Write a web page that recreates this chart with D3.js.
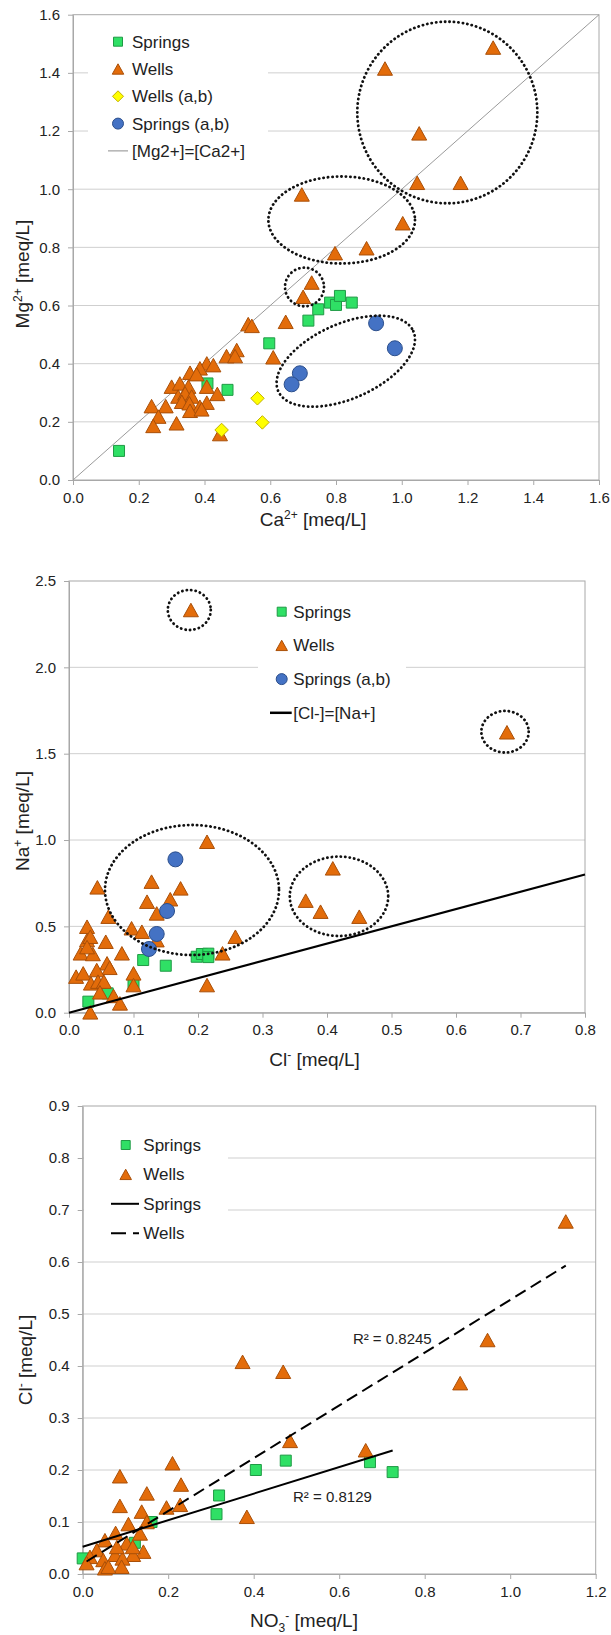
<!DOCTYPE html>
<html>
<head>
<meta charset="utf-8">
<script src="https://cdn.jsdelivr.net/npm/d3@7"></script>
<style>
  body { margin: 0; background: #fff; }
  svg { display: block; }
</style>
</head>
<body>
<script>
// ---------- Ca2+ vs Mg2+ (meq/L) ----------
const caMgSprings = [[0.14,0.10],[0.409,0.332],[0.47,0.31],[0.597,0.47],[0.716,0.548],[0.746,0.587],[0.782,0.61],[0.80,0.602],[0.812,0.633],[0.848,0.61]];
const caMgWells = [[1.278,1.487],[0.949,1.415],[1.053,1.192],[1.047,1.022],[1.179,1.022],[1.003,0.883],[0.893,0.797],[0.797,0.78],[0.696,0.982],[0.726,0.679],[0.70,0.63],[0.647,0.544],[0.609,0.422],[0.533,0.536],[0.544,0.53],[0.498,0.447],[0.467,0.426],[0.493,0.426],[0.407,0.401],[0.427,0.395],[0.386,0.384],[0.356,0.369],[0.376,0.364],[0.407,0.321],[0.439,0.296],[0.30,0.321],[0.325,0.332],[0.351,0.321],[0.32,0.287],[0.341,0.298],[0.361,0.287],[0.331,0.269],[0.354,0.264],[0.407,0.266],[0.386,0.252],[0.356,0.238],[0.391,0.243],[0.239,0.254],[0.282,0.254],[0.26,0.218],[0.244,0.186],[0.315,0.195],[0.447,0.158]];
const caMgWellsAB = [[0.452,0.172],[0.561,0.281],[0.576,0.198]];
const caMgSpringsAB = [[0.922,0.539],[0.979,0.453],[0.69,0.367],[0.665,0.329]];
const caMgTicks = [0,0.2,0.4,0.6,0.8,1.0,1.2,1.4,1.6];

// ---------- Cl- vs Na+ (meq/L) ----------
const clNaSprings = [[0.198,0.324],[0.206,0.34],[0.216,0.342],[0.216,0.322],[0.115,0.305],[0.15,0.272],[0.1,0.17],[0.06,0.112],[0.03,0.064]];
const clNaWells = [[0.189,2.332],[0.679,1.624],[0.409,0.836],[0.367,0.649],[0.39,0.585],[0.45,0.556],[0.214,0.99],[0.044,0.726],[0.128,0.759],[0.173,0.72],[0.121,0.643],[0.157,0.657],[0.136,0.575],[0.061,0.556],[0.097,0.489],[0.113,0.469],[0.136,0.42],[0.258,0.44],[0.238,0.344],[0.214,0.16],[0.082,0.344],[0.057,0.411],[0.028,0.498],[0.028,0.421],[0.033,0.44],[0.018,0.344],[0.037,0.34],[0.028,0.38],[0.059,0.286],[0.063,0.26],[0.011,0.209],[0.022,0.228],[0.043,0.247],[0.034,0.17],[0.045,0.18],[0.054,0.18],[0.1,0.228],[0.1,0.16],[0.048,0.118],[0.069,0.097],[0.079,0.054],[0.033,0.002]];
const clNaSpringsAB = [[0.165,0.888],[0.152,0.589],[0.136,0.456],[0.124,0.369]];
const clTicks = [0,0.1,0.2,0.3,0.4,0.5,0.6,0.7,0.8];
const naTicks = [0,0.5,1.0,1.5,2.0,2.5];

// ---------- NO3- vs Cl- (meq/L) ----------
const no3ClSprings = [[0.0,0.03],[0.122,0.06],[0.161,0.1],[0.313,0.115],[0.319,0.151],[0.405,0.2],[0.475,0.218],[0.672,0.215],[0.725,0.196]];
const no3ClWells = [[1.13,0.678],[0.947,0.45],[0.883,0.367],[0.374,0.408],[0.469,0.389],[0.662,0.238],[0.485,0.256],[0.384,0.11],[0.21,0.213],[0.23,0.172],[0.228,0.133],[0.196,0.128],[0.15,0.155],[0.087,0.188],[0.087,0.131],[0.138,0.12],[0.15,0.1],[0.107,0.096],[0.134,0.078],[0.077,0.079],[0.052,0.065],[0.033,0.046],[0.103,0.059],[0.142,0.043],[0.118,0.037],[0.076,0.037],[0.093,0.03],[0.048,0.027],[0.017,0.033],[0.009,0.021],[0.052,0.011],[0.091,0.014],[0.06,0.014],[0.117,0.052],[0.08,0.052]];
const no3Ticks = [0,0.2,0.4,0.6,0.8,1.0,1.2];
const cl3Ticks = [0,0.1,0.2,0.3,0.4,0.5,0.6,0.7,0.8,0.9];
// linear trendlines: [slope, intercept, R²]
const trendSprings = [0.255, 0.0525, "0.8129"];
const trendWells = [0.5076, 0.0195, "0.8245"];

const FONT = '"Liberation Sans", Arial, Helvetica, sans-serif';
const fmt = d3.format(".1f");

const svg = d3.select("body").append("svg")
  .attr("width", 611).attr("height", 1635)
  .style("background", "#fff")
  .attr("font-family", FONT);

const shapes = {
  square: s => `M${-s/2},${-s/2}h${s}v${s}h${-s}Z`,
  triangle: s => `M0,${-s*0.45}L${s/2},${s*0.45}L${-s/2},${s*0.45}Z`,
  diamond: s => `M0,${-s/2}L${s/2},0L0,${s/2}L${-s/2},0Z`,
  circle: s => { const r = s/2; return `M${r},0A${r},${r} 0 1,1 ${-r},0A${r},${r} 0 1,1 ${r},0Z`; }
};
const look = {
  springs:   { shape: "square",   size: 11,   legend: 9,    fill: "#2fe065", stroke: "#1f9a45" },
  wells:     { shape: "triangle", size: 15,   legend: 11.5, fill: "#e36c0a", stroke: "#a94f08" },
  wellsAB:   { shape: "diamond",  size: 13.5, legend: 11,   fill: "#ffff00", stroke: "#c2b000" },
  springsAB: { shape: "circle",   size: 15,   legend: 11,   fill: "#4472c4", stroke: "#2c4f8c" }
};

function writeTitle(text, segs, size) {
  let cur = 0;
  segs.forEach(s => {
    const off = s.sup ? -7 : s.sub ? 5 : 0;
    text.append("tspan")
      .attr("dy", off - cur)
      .attr("font-size", (s.sup || s.sub) ? 12 : size)
      .text(s.t);
    cur = off;
  });
}

function panel(p) {
  const g = svg.append("g");
  const x = d3.scaleLinear().domain(p.xDomain).range(p.xRange);
  const y = d3.scaleLinear().domain(p.yDomain).range(p.yRange);
  const [x0, x1] = p.xRange, [y0, y1] = p.yRange;

  // horizontal gridlines
  g.append("g").selectAll("line")
    .data(p.yTicks.filter(v => v > p.yDomain[0] && v < p.yDomain[1]))
    .join("line")
    .attr("x1", x0).attr("x2", x1)
    .attr("y1", d => y(d)).attr("y2", d => y(d))
    .attr("stroke", "#cfcfcf").attr("stroke-width", 1);

  // legend background
  g.append("rect")
    .attr("x", p.legend.box[0]).attr("y", p.legend.box[1])
    .attr("width", p.legend.box[2]).attr("height", p.legend.box[3])
    .attr("fill", "#fff");

  // plot frame
  g.append("rect")
    .attr("x", x0).attr("y", y1).attr("width", x1 - x0).attr("height", y0 - y1)
    .attr("fill", "none").attr("stroke", "#a8a8a8").attr("stroke-width", 1);

  // axes
  const ax = g.append("g").attr("transform", `translate(0,${y0})`)
    .call(d3.axisBottom(x).tickValues(p.xTicks).tickFormat(fmt).tickSize(5).tickSizeOuter(0).tickPadding(7));
  const ay = g.append("g").attr("transform", `translate(${x0},0)`)
    .call(d3.axisLeft(y).tickValues(p.yTicks).tickFormat(fmt).tickSize(5).tickSizeOuter(0).tickPadding(8));
  [ax, ay].forEach(a => {
    a.select(".domain").attr("stroke", "#a8a8a8");
    a.selectAll(".tick line").attr("stroke", "#a8a8a8");
    a.selectAll(".tick text").attr("font-size", 15).attr("fill", "#222").attr("font-family", FONT);
  });

  // reference / trend lines drawn under the markers
  (p.linesBelow || []).forEach(l => {
    g.append("line")
      .attr("x1", x(l.x[0])).attr("y1", y(l.y[0]))
      .attr("x2", x(l.x[1])).attr("y2", y(l.y[1]))
      .attr("stroke", l.stroke).attr("stroke-width", l.width)
      .attr("stroke-dasharray", l.dash || null);
  });

  // point series
  p.series.forEach(s => {
    const st = look[s.kind];
    g.append("g").selectAll("path").data(s.data).join("path")
      .attr("transform", d => `translate(${x(d[0])},${y(d[1])})`)
      .attr("d", shapes[st.shape](st.size))
      .attr("fill", st.fill).attr("stroke", st.stroke).attr("stroke-width", 1);
  });

  // lines drawn over the markers
  (p.linesAbove || []).forEach(l => {
    g.append("line")
      .attr("x1", x(l.x[0])).attr("y1", y(l.y[0]))
      .attr("x2", x(l.x[1])).attr("y2", y(l.y[1]))
      .attr("stroke", l.stroke).attr("stroke-width", l.width)
      .attr("stroke-dasharray", l.dash || null);
  });

  // dotted rings marking groups of samples
  (p.rings || []).forEach(r => {
    const rx = x(r.rx) - x(0), ry = y(0) - y(r.ry);
    g.append("ellipse")
      .attr("transform", `translate(${x(r.cx)},${y(r.cy)}) rotate(${r.rot || 0})`)
      .attr("rx", rx).attr("ry", ry)
      .attr("fill", "none").attr("stroke", "#111").attr("stroke-width", 2.8)
      .attr("stroke-linecap", "round").attr("stroke-dasharray", "0.2 4.3");
  });

  // free text labels (R²)
  (p.labels || []).forEach(t => {
    g.append("text").attr("x", x(t.x)).attr("y", y(t.y))
      .attr("font-size", 15).attr("fill", "#222").text(t.text);
  });

  // legend
  const L = p.legend;
  L.items.forEach((it, i) => {
    const cy = L.y0 + i * L.step;
    if (it.kind) {
      const st = look[it.kind];
      g.append("path").attr("transform", `translate(${L.markerX},${cy})`)
        .attr("d", shapes[st.shape](st.legend))
        .attr("fill", st.fill).attr("stroke", st.stroke).attr("stroke-width", 1);
    } else {
      g.append("line").attr("x1", L.lineX[0]).attr("x2", L.lineX[1])
        .attr("y1", cy).attr("y2", cy)
        .attr("stroke", it.stroke).attr("stroke-width", it.width)
        .attr("stroke-dasharray", it.dash || null);
    }
    g.append("text").attr("x", L.textX).attr("y", cy + 6)
      .attr("font-size", 17).attr("fill", "#222").text(it.label);
  });

  // axis titles
  writeTitle(g.append("text").attr("x", p.xTitle.x).attr("y", p.xTitle.y)
    .attr("text-anchor", "middle").attr("fill", "#222"), p.xTitle.segs, 19);
  writeTitle(g.append("text")
    .attr("transform", `translate(${p.yTitle.x},${p.yTitle.y}) rotate(-90)`)
    .attr("text-anchor", "middle").attr("fill", "#222"), p.yTitle.segs, 19);
}

const meq = { t: " [meq/L]" };

// Mg2+ against Ca2+
panel({
  xDomain: [0, 1.6], xRange: [73, 599], yDomain: [0, 1.6], yRange: [480, 14.7],
  xTicks: caMgTicks, yTicks: caMgTicks,
  linesBelow: [{ x: [0, 1.6], y: [0, 1.6], stroke: "#9a9a9a", width: 1 }],
  series: [
    { kind: "springs", data: caMgSprings },
    { kind: "wells", data: caMgWells },
    { kind: "wellsAB", data: caMgWellsAB },
    { kind: "springsAB", data: caMgSpringsAB }
  ],
  rings: [
    { cx: 1.1386, cy: 1.2637, rx: 0.2738, ry: 0.3122 },
    { cx: 0.8173, cy: 0.8941, rx: 0.223, ry: 0.1496 },
    { cx: 0.7042, cy: 0.6637, rx: 0.0593, ry: 0.0664 },
    { cx: 0.8298, cy: 0.4085, rx: 0.2248, ry: 0.1286, rot: -24 }
  ],
  legend: {
    box: [88, 22, 180, 148], markerX: 118, textX: 132, y0: 41.7, step: 27.3, lineX: [108, 128],
    items: [
      { kind: "springs", label: "Springs" },
      { kind: "wells", label: "Wells" },
      { kind: "wellsAB", label: "Wells (a,b)" },
      { kind: "springsAB", label: "Springs (a,b)" },
      { stroke: "#8c8c8c", width: 1, label: "[Mg2+]=[Ca2+]" }
    ]
  },
  xTitle: { x: 313, y: 526, segs: [{ t: "Ca" }, { t: "2+", sup: true }, meq] },
  yTitle: { x: 28.5, y: 274, segs: [{ t: "Mg" }, { t: "2+", sup: true }, meq] }
});

// Na+ against Cl-
panel({
  xDomain: [0, 0.8], xRange: [69, 585], yDomain: [0, 2.5], yRange: [1012.7, 581],
  xTicks: clTicks, yTicks: naTicks,
  linesAbove: [{ x: [0, 0.8], y: [0, 0.8], stroke: "#000", width: 2.2 }],
  series: [
    { kind: "springs", data: clNaSprings },
    { kind: "wells", data: clNaWells },
    { kind: "springsAB", data: clNaSpringsAB }
  ],
  rings: [
    { cx: 0.1865, cy: 2.332, rx: 0.0333, ry: 0.1158 },
    { cx: 0.676, cy: 1.627, rx: 0.0367, ry: 0.1204 },
    { cx: 0.1907, cy: 0.7105, rx: 0.1349, ry: 0.3764 },
    { cx: 0.4186, cy: 0.674, rx: 0.0763, ry: 0.2299 }
  ],
  legend: {
    box: [258, 592, 148, 138], markerX: 281.7, textX: 293.3, y0: 611.7, step: 33.7, lineX: [270, 291.7],
    items: [
      { kind: "springs", label: "Springs" },
      { kind: "wells", label: "Wells" },
      { kind: "springsAB", label: "Springs (a,b)" },
      { stroke: "#000", width: 2.5, label: "[Cl-]=[Na+]" }
    ]
  },
  xTitle: { x: 314.5, y: 1066, segs: [{ t: "Cl" }, { t: "-", sup: true }, meq] },
  yTitle: { x: 29.3, y: 821, segs: [{ t: "Na" }, { t: "+", sup: true }, meq] }
});

// Cl- against NO3-, with linear trendlines per group
const sx = d3.extent(no3ClSprings, d => d[0]);
const wx = d3.extent(no3ClWells, d => d[0]);
const fit = (t, v) => t[0] * v + t[1];
panel({
  xDomain: [0, 1.2], xRange: [82.7, 595.7], yDomain: [0, 0.9], yRange: [1574, 1106],
  xTicks: no3Ticks, yTicks: cl3Ticks,
  series: [
    { kind: "springs", data: no3ClSprings },
    { kind: "wells", data: no3ClWells }
  ],
  linesAbove: [
    { x: sx, y: sx.map(v => fit(trendSprings, v)), stroke: "#000", width: 2 },
    { x: wx, y: wx.map(v => fit(trendWells, v)), stroke: "#000", width: 2, dash: "12 6" }
  ],
  labels: [
    { x: 0.632, y: 0.443, text: "R\u00B2 = " + trendWells[2] },
    { x: 0.492, y: 0.1385, text: "R\u00B2 = " + trendSprings[2] }
  ],
  legend: {
    box: [84, 1126, 144, 122], markerX: 125.7, textX: 143.3, y0: 1145, step: 29.4, lineX: [111, 139],
    items: [
      { kind: "springs", label: "Springs" },
      { kind: "wells", label: "Wells" },
      { stroke: "#000", width: 2, label: "Springs" },
      { stroke: "#000", width: 2, dash: "15 7", label: "Wells" }
    ]
  },
  xTitle: { x: 304, y: 1627, segs: [{ t: "NO" }, { t: "3", sub: true }, { t: "-", sup: true }, meq] },
  yTitle: { x: 32, y: 1360, segs: [{ t: "Cl" }, { t: "-", sup: true }, meq] }
});
</script>
</body>
</html>
